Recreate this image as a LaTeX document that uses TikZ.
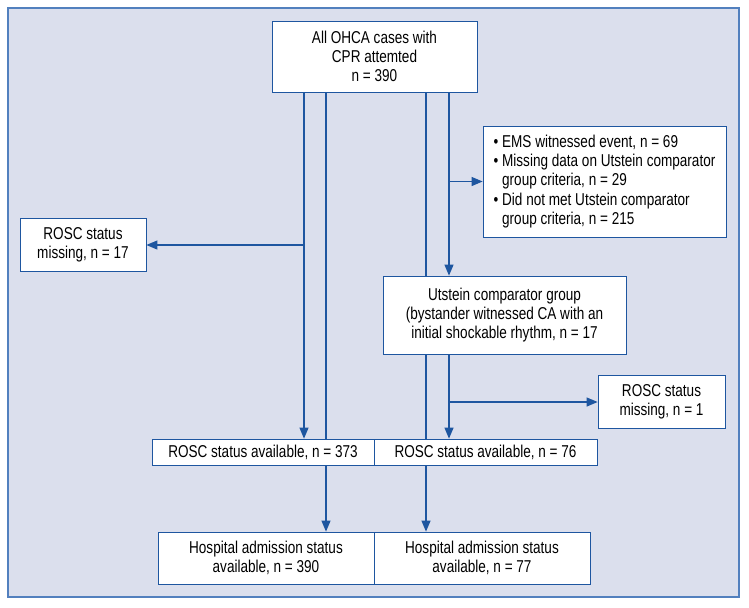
\documentclass[tikz,border=0pt]{standalone}
\usepackage{fontspec}
\setmainfont[FakeStretch=0.79]{Liberation Sans}
\usepackage{xcolor}
\usetikzlibrary{positioning, calc, arrows, shapes}
\tikzset{>=triangle 45}
\definecolor{framefill}{RGB}{219,223,237}
\definecolor{framedraw}{RGB}{82,128,190}
\definecolor{flowblue}{RGB}{30,86,160}
\tikzset{
  flowbox/.style={draw=flowblue, fill=white, line width=0.6pt, align=center,
    inner sep=2pt, font=\fontsize{12.2}{13.7}\selectfont},
  arr/.style={->, draw=flowblue, line width=0.8pt},
  conn/.style={draw=flowblue, line width=0.8pt}
}

\begin{document}
\begin{tikzpicture}[x=0.025cm, y=-0.025cm]
    \useasboundingbox (0,0) rectangle (749,607);
    \draw[framedraw, fill=framefill, line width=1pt] (8,8) rectangle (739,597);

    \node[flowbox, minimum width=205*0.025cm, minimum height=71*0.025cm] (all) at (374.5,56.5) {
      All OHCA cases with \\
      CPR attemted \\
      n = 390
    };
    \node[flowbox, align=left, minimum width=243*0.025cm, minimum height=111*0.025cm] (excl) at (604.5,181.5) {
      \textbullet\ EMS witnessed event, n = 69 \\
      \textbullet\ Missing data on Utstein comparator \\
      \phantom{\textbullet\ }group criteria, n = 29 \\
      \textbullet\ Did not met Utstein comparator \\
      \phantom{\textbullet\ }group criteria, n = 215
    };
    \node[flowbox, minimum width=126*0.025cm, minimum height=53*0.025cm] (miss17) at (83,245) {
      ROSC status \\
      missing, n = 17
    };
    \node[flowbox, minimum width=243*0.025cm, minimum height=78*0.025cm] (utstein) at (504.5,315) {
      Utstein comparator group \\
      (bystander witnessed CA with an \\
      initial shockable rhythm, n = 17
    };
    \node[flowbox, minimum width=127*0.025cm, minimum height=53*0.025cm] (miss1) at (661.5,402) {
      ROSC status \\
      missing, n = 1
    };
    \node[flowbox, minimum width=222*0.025cm, minimum height=26*0.025cm] (rosca) at (263,452) {ROSC status available, n = 373};
    \node[flowbox, minimum width=223*0.025cm, minimum height=26*0.025cm] (roscb) at (485.5,452) {ROSC status available, n = 76};
    \node[flowbox, minimum width=216*0.025cm, minimum height=52*0.025cm] (hospa) at (266,558) {
      Hospital admission status \\
      available, n = 390
    };
    \node[flowbox, minimum width=216*0.025cm, minimum height=52*0.025cm] (hospb) at (482,558) {
      Hospital admission status \\
      available, n = 77
    };

    % x positions of the four branches
    \coordinate (xa) at (304,0);
    \coordinate (xb) at (326,0);
    \coordinate (xc) at (426,0);
    \coordinate (xd) at (449,0);

    \draw[arr] (all.south -| xa) -- (rosca.north -| xa);
    \draw[arr] (xa |- miss17.east) -- (miss17.east);
    \draw[conn] (all.south -| xb) -- (rosca.north -| xb);
    \draw[arr] (rosca.south -| xb) -- (hospa.north -| xb);
    \draw[conn] (all.south -| xc) -- (utstein.north -| xc);
    \draw[conn] (utstein.south -| xc) -- (roscb.north -| xc);
    \draw[arr] (roscb.south -| xc) -- (hospb.north -| xc);
    \draw[arr] (all.south -| xd) -- (utstein.north -| xd);
    \draw[arr] (xd |- excl.west) -- (excl.west);
    \draw[arr] (utstein.south -| xd) -- (roscb.north -| xd);
    \draw[arr] (xd |- miss1.west) -- (miss1.west);
  \end{tikzpicture}
\end{document}
